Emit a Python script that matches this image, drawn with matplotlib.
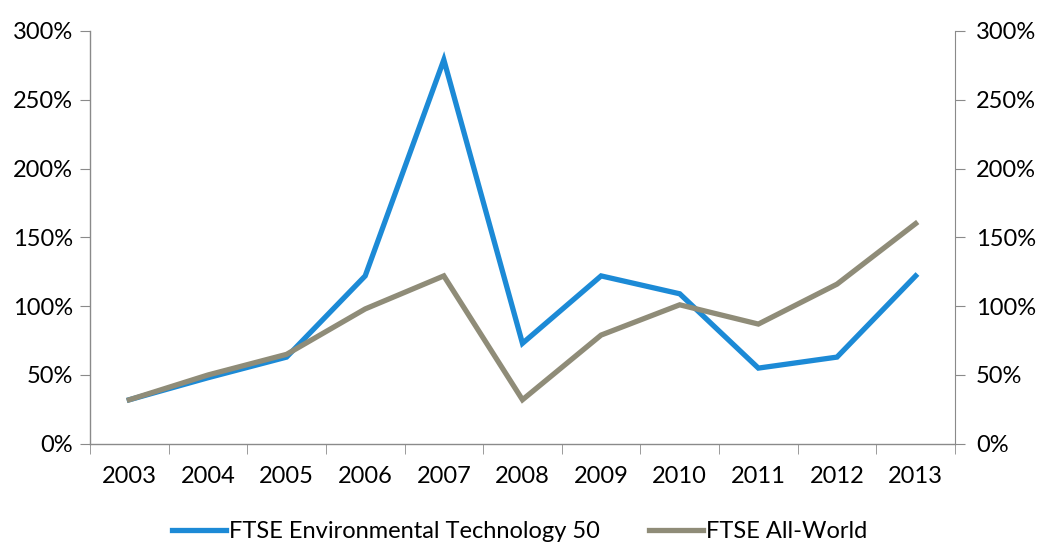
import matplotlib.pyplot as plt
import numpy as np

# ── data ─────────────────────────────────────────────────────────────────────
years = ["2003", "2004", "2005", "2006", "2007", "2008",
         "2009", "2010", "2011", "2012", "2013"]
env_tech = [32, 48, 63, 122, 279, 73, 122, 109, 55, 63, 122]
all_world = [32, 50, 65, 98, 122, 32, 79, 101, 87, 116, 160]

BLUE = "#1c8ad6"
GREY = "#8f8c78"
AXIS = "#8a8a8a"
FS = 17

plt.rcParams["font.family"] = ["Lato", "DejaVu Sans"]

fig = plt.figure(figsize=(10.39, 5.52), dpi=100)
fig.patch.set_facecolor("white")
ax = fig.add_axes([0.0866, 0.196, 0.8325, 0.748])

x = np.arange(len(years))
ax.plot(x, env_tech, color=BLUE, lw=3.8, solid_joinstyle="miter",
        label="FTSE Environmental Technology 50", zorder=3)
ax.plot(x, all_world, color=GREY, lw=3.8, solid_joinstyle="miter",
        label="FTSE All-World", zorder=4)

ax.set_xlim(-0.5, len(years) - 0.5)
ax.set_ylim(0, 300)
ax.set_yticks(range(0, 301, 50))
ax.set_yticklabels([f"{v}%" for v in range(0, 301, 50)], fontsize=FS)

# category labels centred, tick marks on the boundaries
ax.set_xticks(x)
ax.set_xticklabels(years, fontsize=FS)
ax.set_xticks(np.arange(-0.5, len(years), 1), minor=True)
ax.tick_params(axis="x", which="major", length=0, pad=16)
ax.tick_params(axis="x", which="minor", length=7, color=AXIS, direction="out")
ax.tick_params(axis="y", length=7, color=AXIS, direction="out", pad=5)

for s in ["top", "right"]:
    ax.spines[s].set_visible(False)
for s in ["left", "bottom"]:
    ax.spines[s].set_color(AXIS)
    ax.spines[s].set_linewidth(1.0)

# secondary axis on the right, same scale
ax2 = ax.twinx()
ax2.set_ylim(0, 300)
ax2.set_yticks(range(0, 301, 50))
ax2.set_yticklabels([f"{v}%" for v in range(0, 301, 50)], fontsize=FS)
ax2.tick_params(axis="y", length=7, color=AXIS, direction="out", pad=8)
for s in ["top", "left", "bottom"]:
    ax2.spines[s].set_visible(False)
ax2.spines["right"].set_color(AXIS)

fig.legend(loc="lower center", bbox_to_anchor=(0.5, -0.02), ncol=2,
           frameon=False, fontsize=FS, handlelength=2.3,
           handletextpad=0.1, columnspacing=2.1)

fig.savefig("out.png", dpi=100, facecolor="white")
